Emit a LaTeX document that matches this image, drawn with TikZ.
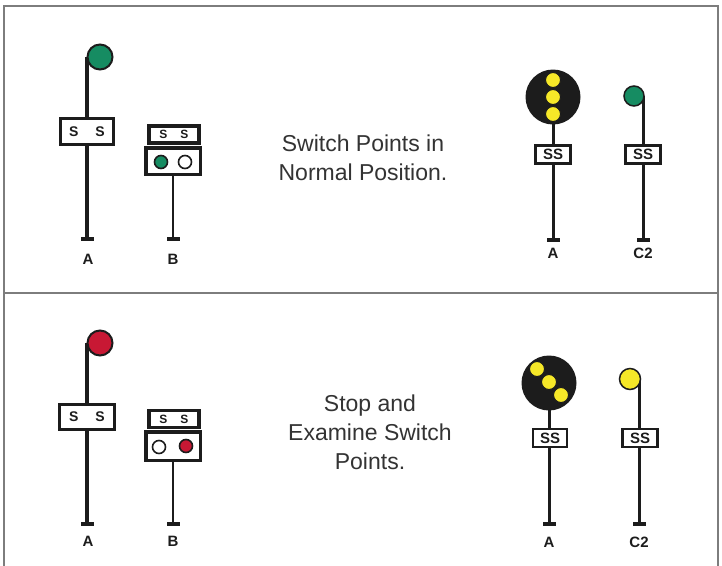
\documentclass[tikz,border=0pt]{standalone}
\usepackage{fontspec}
\setmainfont{Liberation Sans}
\usepackage{tikz}
\usetikzlibrary{positioning,backgrounds}
\usepackage{xcolor}
\definecolor{siggreen}{RGB}{22,140,98}
\definecolor{sigred}{RGB}{200,24,52}
\definecolor{sigyellow}{RGB}{246,232,40}
\definecolor{ink}{RGB}{28,28,28}
\definecolor{rulegray}{RGB}{125,125,125}

\begin{document}
\begin{tikzpicture}[
    x=1pt, y=-1pt,
    head/.style={circle, draw=ink, line width=2pt, inner sep=0pt},
    lens/.style={circle, draw=ink, line width=1pt, fill=sigyellow, minimum size=15pt, inner sep=0pt},
    lamp/.style={circle, draw=ink, line width=1.6pt, minimum size=13pt, inner sep=0pt},
    plate/.style={rectangle, draw=ink, fill=white, line width=2.8pt, inner sep=0pt, text=ink, font=\bfseries\fontsize{15}{15}\selectfont},
    foot/.style={rectangle, fill=ink, minimum width=13pt, minimum height=3.5pt, inner sep=0pt},
    pole/.style={draw=ink, line width=3pt},
    tag/.style={text=ink, font=\bfseries\fontsize{15}{15}\selectfont},
    caption/.style={align=center, text=ink!90, font=\fontsize{23}{29}\selectfont}
]
    \useasboundingbox (0,0) rectangle (722,565);

    % Frame
    \draw[rulegray, line width=1.5pt] (4,570) -- (4,6) -- (718,6) -- (718,570);
    \draw[rulegray, line width=1.5pt] (4,293) -- (718,293);

    % Top panel: signal A
    \node[head, fill=siggreen, minimum size=25pt] (hA1) at (100,57) {};
    \node[plate, line width=3pt, minimum width=53pt, minimum height=26pt, font=\bfseries\fontsize{14}{14}\selectfont] (pA1) at (87,131.5) {S\hspace{17pt}S};
    \node[foot] (fA1) at (87,239) {};
    \node[tag] (lA1) at (88,259) {A};

    % Top panel: signal B
    \node[plate, line width=3.5pt, minimum width=50pt, minimum height=17pt, font=\bfseries\fontsize{12}{12}\selectfont] (pB1) at (174,134.5) {S\hspace{13pt}S};
    \node[plate, line width=3.5pt, minimum width=54.5pt, minimum height=26.5pt] (qB1) at (173,161) {};
    \node[lamp, fill=siggreen] (gB1) at (161,162) {};
    \node[lamp, fill=white] (wB1) at (185,162) {};
    \node[foot] (fB1) at (173,239) {};
    \node[tag] (lB1) at (173,259) {B};

    % Top panel: text
    \node[caption] (t1) at (363,158) {Switch Points in\\Normal Position.};

    % Top panel: signal A, right
    \node[circle, fill=ink, minimum size=55pt, inner sep=0pt] (hR1) at (553,97) {};
    \node[lens] (y1a) at (553,80) {};
    \node[lens] (y1b) at (553,97) {};
    \node[lens] (y1c) at (553,114) {};
    \node[plate, minimum width=35.5pt, minimum height=18.5pt] (pR1) at (553,154.5) {SS};
    \node[foot] (fR1) at (553,240) {};
    \node[tag] (lR1) at (553,253) {A};

    % Top panel: signal C2
    \node[head, fill=siggreen, line width=1.5pt, minimum size=20pt] (hC1) at (634,96) {};
    \node[plate, minimum width=35.5pt, minimum height=18.5pt] (pC1) at (643,154.5) {SS};
    \node[foot] (fC1) at (643,240) {};
    \node[tag] (lC1) at (643,253) {C2};

    % Bottom panel: signal A
    \node[head, fill=sigred, minimum size=25pt] (hA2) at (100,343) {};
    \node[plate, line width=3pt, minimum width=55pt, minimum height=25pt, font=\bfseries\fontsize{14}{14}\selectfont] (pA2) at (87,417) {S\hspace{17pt}S};
    \node[foot] (fA2) at (87,524) {};
    \node[tag] (lA2) at (88,541) {A};

    % Bottom panel: signal B
    \node[plate, line width=3.5pt, minimum width=50pt, minimum height=17pt, font=\bfseries\fontsize{12}{12}\selectfont] (pB2) at (174,419) {S\hspace{13pt}S};
    \node[plate, line width=3.5pt, minimum width=54.5pt, minimum height=28.5pt] (qB2) at (173,446) {};
    \node[lamp, fill=white] (wB2) at (159,447) {};
    \node[lamp, fill=sigred] (rB2) at (186,446) {};
    \node[foot] (fB2) at (173,524) {};
    \node[tag] (lB2) at (173,541) {B};

    % Bottom panel: text
    \node[caption] (t2) at (370,432) {Stop and\\Examine Switch\\Points.};

    % Bottom panel: signal A, right
    \node[circle, fill=ink, minimum size=55pt, inner sep=0pt] (hR2) at (549,383) {};
    \node[lens] (y2a) at (537,369) {};
    \node[lens] (y2b) at (549,382) {};
    \node[lens] (y2c) at (561,395) {};
    \node[plate, minimum width=34pt, minimum height=18pt] (pR2) at (550,438) {SS};
    \node[foot] (fR2) at (549,524) {};
    \node[tag] (lR2) at (549,542) {A};

    % Bottom panel: signal C2
    \node[head, fill=sigyellow, line width=1.5pt, minimum size=21pt] (hC2) at (630,379) {};
    \node[plate, minimum width=35.5pt, minimum height=18pt] (pC2) at (640,438) {SS};
    \node[foot] (fC2) at (639,524) {};
    \node[tag] (lC2) at (639,542) {C2};

    % Poles
    \begin{scope}[on background layer]
        \draw[pole, line width=4pt] (fA1.center) -- (fA1.center |- hA1.center);
        \draw[pole, line width=2.5pt] (fB1.center) -- (qB1.center);
        \draw[pole] (fR1.center) -- (fR1.center |- hR1.center);
        \draw[pole] (fC1.center) -- (fC1.center |- hC1.center);
        \draw[pole, line width=4pt] (fA2.center) -- (fA2.center |- hA2.center);
        \draw[pole, line width=2.5pt] (fB2.center) -- (qB2.center);
        \draw[pole] (fR2.center) -- (fR2.center |- hR2.center);
        \draw[pole] (fC2.center) -- (fC2.center |- hC2.center);
    \end{scope}
\end{tikzpicture}
\end{document}
